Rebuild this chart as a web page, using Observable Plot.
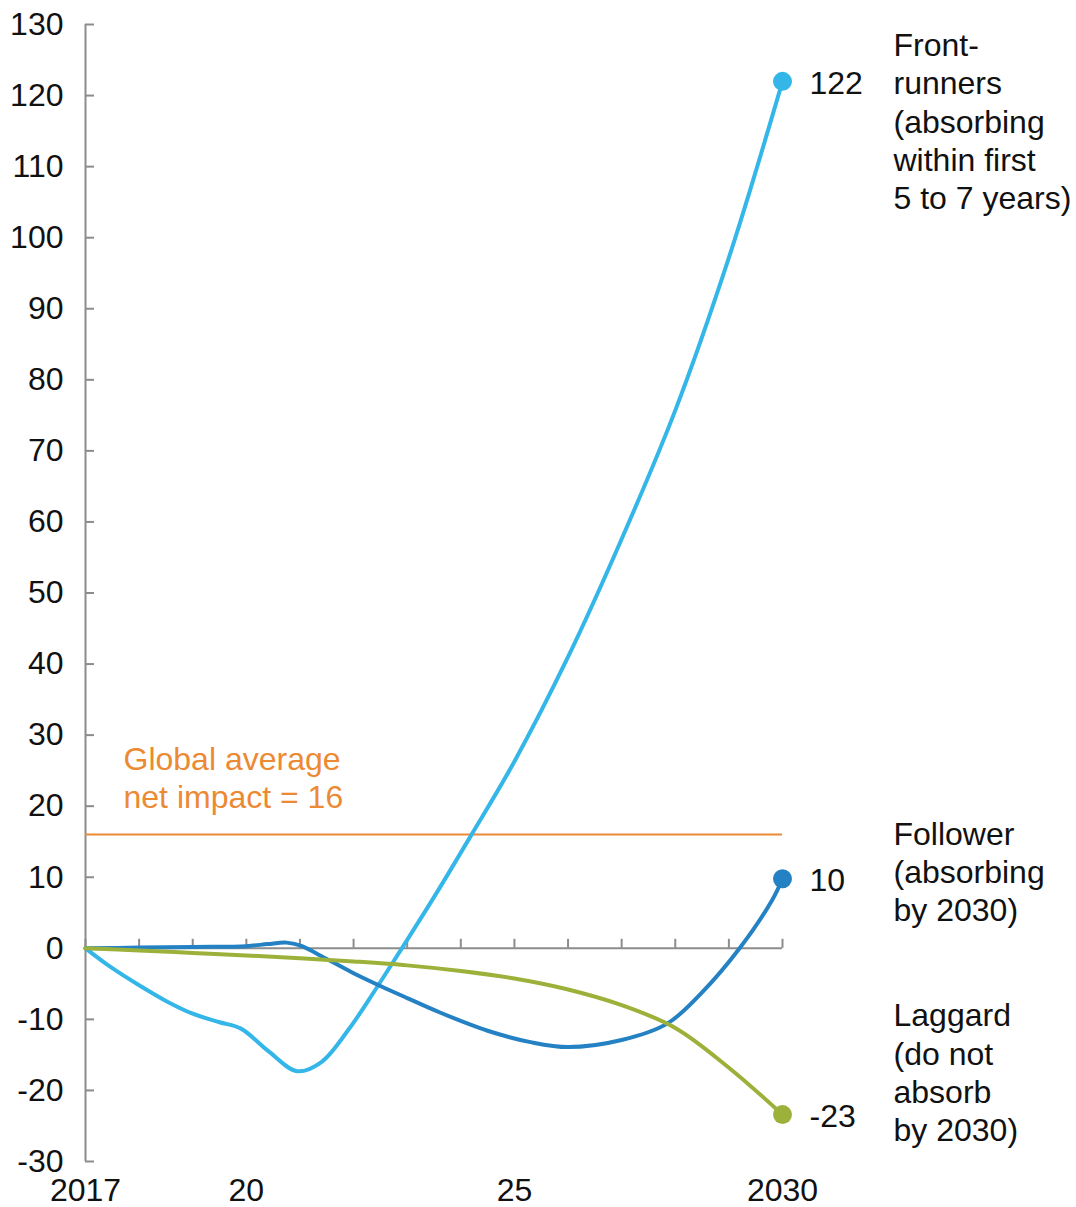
<!DOCTYPE html>
<html><head><meta charset="utf-8">
<script src="https://cdn.jsdelivr.net/npm/d3@7"></script>
<script src="https://cdn.jsdelivr.net/npm/@observablehq/plot@0.6"></script>
<style>html,body{margin:0;padding:0;background:#fff;} svg{display:block}</style>
</head><body><div id="chart"></div>
<script>
// Series (years may be fractional to follow the drawn curves)
const frontYears  = [2017, 2017.5, 2018, 2018.5, 2019, 2019.5, 2019.9, 2020.4, 2020.95, 2021.4, 2021.9, 2022.4, 2022.9, 2023.5, 2024.2, 2025, 2026, 2027, 2028, 2029, 2030];
const frontValues = [0, -2.8, -5.2, -7.4, -9.2, -10.4, -11.3, -14.4, -17.3, -16.0, -11.5, -5.9, 0, 7.2, 16, 26.3, 41.0, 57.6, 75.7, 97.2, 122];

const followerYears  = [2017, 2018, 2019, 2020, 2020.4, 2020.75, 2021.0, 2021.5, 2022, 2022.5, 2023, 2023.6, 2024.5, 2025.3, 2026, 2027, 2027.85, 2028.5, 2029.2, 2029.8, 2030];
const followerValues = [0, 0.1, 0.2, 0.3, 0.6, 0.8, 0.4, -1.5, -3.5, -5.3, -7.0, -9.0, -11.6, -13.2, -13.9, -12.9, -10.6, -6.2, 0, 6.7, 9.8];

const laggardYears  = [2017, 2018, 2019, 2020, 2021, 2022, 2023, 2024, 2025, 2026, 2027, 2028, 2029, 2030];
const laggardValues = [0, -0.3, -0.65, -1.0, -1.4, -1.85, -2.4, -3.2, -4.25, -5.8, -8.0, -11.2, -16.8, -23.4];

const globalAverage = 16;
const globalLabel = "Global average\nnet impact = 16";

const endValues = [122, 9.8, -23.4];
const endLabels = ["122", "10", "-23"];
const seriesLabels = [
  "Front-\nrunners\n(absorbing\nwithin first\n5 to 7 years)",
  "Follower\n(absorbing\nby 2030)",
  "Laggard\n(do not\nabsorb\nby 2030)"
];

const yTicks = [-30, -20, -10, 0, 10, 20, 30, 40, 50, 60, 70, 80, 90, 100, 110, 120, 130];
const yearTicks = [2017, 2018, 2019, 2020, 2021, 2022, 2023, 2024, 2025, 2026, 2027, 2028, 2029, 2030];
const xTicks = [2017, 2020, 2025, 2030];
const xTickLabels = ["2017", "20", "25", "2030"];

const colors = {front: "#34B6E8", follower: "#2481C4", laggard: "#9CB13A", orange: "#EC8A34", axis: "#8C8C8C"};
const seriesColors = [colors.front, colors.follower, colors.laggard];

const build = (ys, vs) => ys.map((x, i) => ({x, y: vs[i]}));
const front = build(frontYears, frontValues);
const follower = build(followerYears, followerValues);
const laggard = build(laggardYears, laggardValues);
const ends = endValues.map((v, i) => ({x: 2030, y: v, label: endLabels[i], name: seriesLabels[i], color: seriesColors[i]}));

const font = "'Liberation Sans', Arial, Helvetica, sans-serif";
const nameText = (i, dy) => Plot.text([ends[i]], {x: "x", y: "y", text: "name", dx: 111, dy, textAnchor: "start", lineAnchor: "middle", lineHeight: 1.2, fill: "#111", fontSize: 32});

const chart = Plot.plot({
  width: 1076,
  height: 1207,
  marginLeft: 85,
  marginRight: 294,
  marginTop: 24,
  marginBottom: 46,
  style: {fontFamily: font, fontSize: "32px", background: "#fff", color: "#111", overflow: "visible"},
  x: {domain: [2017, 2030]},
  y: {domain: [-30, 130]},
  marks: [
    // y axis line and inward ticks
    Plot.ruleX([2017], {y1: -30, y2: 130, stroke: colors.axis, strokeWidth: 2}),
    Plot.ruleY(yTicks, {y: d => d, x1: 2017, x2: 2017, insetRight: -9, stroke: colors.axis, strokeWidth: 2}),
    Plot.axisY({ticks: yTicks, tickSize: 0, tickPadding: 22, tickFormat: d => String(d), label: null, fontSize: 32, fill: "#111"}),
    // zero line with upward year ticks
    Plot.ruleY([0], {x1: 2017, x2: 2030, stroke: colors.axis, strokeWidth: 2}),
    Plot.ruleX(yearTicks, {x: d => d, y1: 0, y2: 0, insetBottom: 9, stroke: colors.axis, strokeWidth: 2}),
    Plot.axisX({ticks: xTicks, tickSize: 0, tickPadding: 17, tickFormat: d => xTickLabels[xTicks.indexOf(d)], label: null, fontSize: 32, fill: "#111"}),
    // global average
    Plot.ruleY([globalAverage], {x1: 2017, x2: 2030, stroke: colors.orange, strokeWidth: 2}),
    Plot.text([globalLabel], {x: 2017, y: globalAverage, text: d => d, dx: 38, dy: -58, textAnchor: "start", lineAnchor: "middle", lineHeight: 1.2, fill: colors.orange, fontSize: 32}),
    // series
    Plot.line(front, {x: "x", y: "y", stroke: colors.front, strokeWidth: 4, curve: "catmull-rom"}),
    Plot.line(follower, {x: "x", y: "y", stroke: colors.follower, strokeWidth: 4, curve: "catmull-rom"}),
    Plot.line(laggard, {x: "x", y: "y", stroke: colors.laggard, strokeWidth: 4, curve: "catmull-rom"}),
    Plot.dot(ends, {x: "x", y: "y", r: 9.5, fill: "color", stroke: null}),
    Plot.text(ends, {x: "x", y: "y", text: "label", dx: 27, dy: 2, textAnchor: "start", fill: "#111", fontSize: 32}),
    nameText(0, 39),
    nameText(1, -8),
    nameText(2, -43)
  ]
});
document.getElementById("chart").appendChild(chart);
</script>
</body></html>
